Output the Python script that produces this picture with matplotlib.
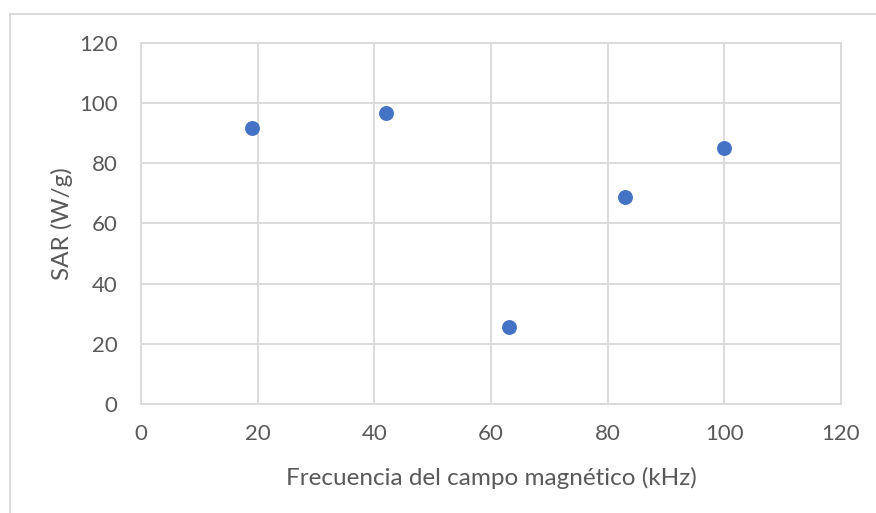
import matplotlib.pyplot as plt
from matplotlib.lines import Line2D

frecuencia_khz = [19, 42, 63, 83, 100]
sar_w_g = [91.7, 96.6, 25.8, 68.8, 85.2]

x_ticks = [0, 20, 40, 60, 80, 100, 120]
y_ticks = [0, 20, 40, 60, 80, 100, 120]

gris_texto = '#595959'
gris_rejilla = '#d9d9d9'

plt.rcParams['font.family'] = ['Lato', 'DejaVu Sans']

fig = plt.figure(figsize=(8.76, 5.13), dpi=100)
ax = fig.add_axes([141 / 876, 1 - 404.3 / 513, 700 / 876, 361.6 / 513])

# borde del grafico (recortado a la derecha y abajo)
x_borde = 9.5 / 876
y_borde = 1 - 13.5 / 513
fig.lines.append(Line2D([x_borde, x_borde], [0, y_borde], transform=fig.transFigure,
                        color=gris_rejilla, linewidth=1.3))
fig.lines.append(Line2D([x_borde, 1], [y_borde, y_borde], transform=fig.transFigure,
                        color=gris_rejilla, linewidth=1.3))

ax.scatter(frecuencia_khz, sar_w_g, s=115, color='#4472C4', zorder=3, linewidths=0)

ax.set_xlim(0, 120)
ax.set_ylim(0, 120)
ax.set_xticks(x_ticks)
ax.set_yticks(y_ticks)
ax.grid(True, color=gris_rejilla, linewidth=1.3)
ax.set_axisbelow(True)
for s in ax.spines.values():
    s.set_color(gris_rejilla)
    s.set_linewidth(1.3)

ax.tick_params(length=0, labelsize=16, labelcolor=gris_texto)
ax.tick_params(axis='y', pad=17)
ax.tick_params(axis='x', pad=14)

ax.set_xlabel('Frecuencia del campo magnético (kHz)', fontsize=17.5, color=gris_texto, labelpad=17)
ax.set_ylabel('SAR (W/g)', fontsize=17.5, color=gris_texto, labelpad=4)

fig.savefig('out.png', dpi=100)
